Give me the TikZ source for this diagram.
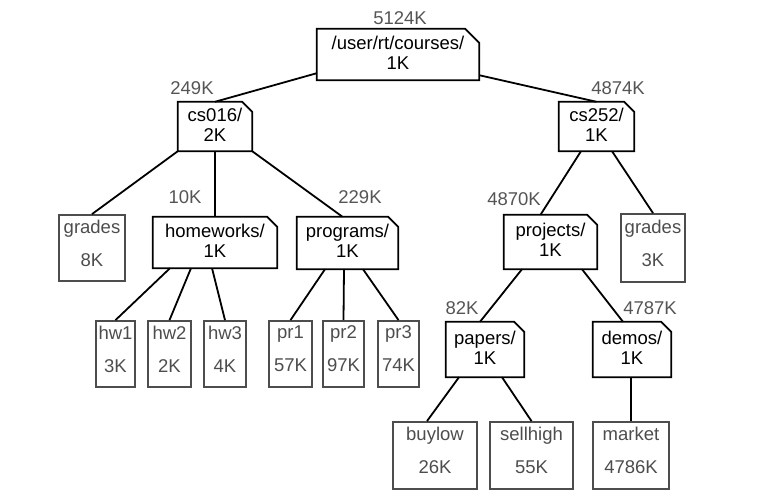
\documentclass[tikz,border=0pt]{standalone}
\usepackage{fontspec}
\setmainfont{Liberation Sans}
\definecolor{filegray}{HTML}{4D4D4D}
\definecolor{sizegray}{HTML}{555555}
\newcommand\fdp{\rule[-10pt]{0pt}{10pt}}
\newcommand\ddp{\rule[-4pt]{0pt}{4pt}}
\newcommand\folderoutline[2][10pt]{\draw[foldline] (#2.south west) -- (#2.north west) -- ([xshift=-#1]#2.north east) -- ([yshift=-#1]#2.north east) -- (#2.south east) -- cycle;}
\tikzset{
  basetext/.style={font=\fontsize{18.5}{20}\selectfont, inner sep=0pt, align=center},
  filebox/.style={basetext, draw=filegray, text=filegray, line width=1.8pt},
  folderbox/.style={basetext, text=black},
  sizelabel/.style={font=\fontsize{18.5}{20}\selectfont, text=sizegray, inner sep=0pt, anchor=base},
  edge/.style={line width=1.8pt, black},
  foldline/.style={line width=1.8pt, black, line join=miter},
}
\begin{document}
\begin{tikzpicture}[x=1pt,y=-1pt]
\path[use as bounding box, fill=white] (0,0) rectangle (764,503);

% folders
\node[folderbox, minimum width=162pt, minimum height=51pt] (root) at (398,54.5) {/user/rt/courses/\\1K\ddp};
\node[folderbox, minimum width=74pt, minimum height=49pt] (cs016) at (215,126.5) {cs016/\\2K\ddp};
\node[folderbox, minimum width=75pt, minimum height=49pt] (cs252) at (596.5,126.5) {cs252/\\1K\ddp};
\node[folderbox, minimum width=124pt, minimum height=51pt] (homeworks) at (215,242.5) {homeworks/\\1K\ddp};
\node[folderbox, minimum width=101pt, minimum height=52pt] (programs) at (347.5,243) {programs/\\1K\ddp};
\node[folderbox, minimum width=93pt, minimum height=54pt] (projects) at (550.5,242) {projects/\\1K\ddp};
\node[folderbox, minimum width=78pt, minimum height=55pt] (papers) at (485,349.5) {papers/\\1K\ddp};
\node[folderbox, minimum width=78pt, minimum height=55pt] (demos) at (632,349.5) {demos/\\1K\ddp};
\folderoutline[14pt]{root}
\folderoutline{cs016}
\folderoutline{cs252}
\folderoutline{homeworks}
\folderoutline{programs}
\folderoutline{projects}
\folderoutline{papers}
\folderoutline{demos}

% files
\node[filebox, minimum width=66pt, minimum height=66pt] (gradesL) at (92,248) {grades\\[13pt]8K\fdp};
\node[filebox, minimum width=64pt, minimum height=68pt] (gradesR) at (653,248) {grades\\[13pt]3K\fdp};
\node[filebox, minimum width=39pt, minimum height=66pt] (hw1) at (115.5,354) {hw1\\[13pt]3K\fdp};
\node[filebox, minimum width=43pt, minimum height=66pt] (hw2) at (169.5,354) {hw2\\[13pt]2K\fdp};
\node[filebox, minimum width=42pt, minimum height=66pt] (hw3) at (225,354) {hw3\\[13pt]4K\fdp};
\node[filebox, minimum width=43pt, minimum height=66pt] (pr1) at (290.5,354) {pr1\\[13pt]57K\fdp};
\node[filebox, minimum width=41pt, minimum height=66pt] (pr2) at (343.5,354) {pr2\\[13pt]97K\fdp};
\node[filebox, minimum width=41pt, minimum height=66pt] (pr3) at (398.5,354) {pr3\\[13pt]74K\fdp};
\node[filebox, minimum width=84pt, minimum height=67pt] (buylow) at (435,455.5) {buylow\\[13pt]26K\fdp};
\node[filebox, minimum width=83pt, minimum height=67pt] (sellhigh) at (531.5,455.5) {sellhigh\\[13pt]55K\fdp};
\node[filebox, minimum width=76pt, minimum height=67pt] (market) at (631,455.5) {market\\[13pt]4786K\fdp};

% size labels
\node[sizelabel] (s-root) at (400,25) {5124K};
\node[sizelabel] (s-cs016) at (192,95) {249K};
\node[sizelabel] (s-cs252) at (618,95) {4874K};
\node[sizelabel] (s-hw) at (185,204) {10K};
\node[sizelabel] (s-pr) at (360,204) {229K};
\node[sizelabel] (s-proj) at (514,205) {4870K};
\node[sizelabel] (s-pap) at (462,314) {82K};
\node[sizelabel] (s-dem) at (650,314) {4787K};

% connectors
\draw[edge] ([yshift=7pt]root.south west) -- (cs016.north);
\draw[edge] ([yshift=5pt]root.south east) -- (cs252.north);
\draw[edge] (cs016.south west) -- (gradesL.north);
\draw[edge] (cs016.south) -- (homeworks.north);
\draw[edge] (cs016.south east) -- ([xshift=-5pt]programs.north);
\draw[edge] ([xshift=-45pt]homeworks.south) -- (hw1.north);
\draw[edge] ([xshift=-24pt]homeworks.south) -- (hw2.north);
\draw[edge] ([xshift=-3pt]homeworks.south) -- (hw3.north);
\draw[edge] ([xshift=-22.5pt]programs.south) -- (pr1.north);
\draw[edge] ([xshift=-3.5pt]programs.south) -- (pr2.north);
\draw[edge] ([xshift=15.5pt]programs.south) -- (pr3.north);
\draw[edge] ([xshift=-15.5pt]cs252.south) -- ([xshift=-10pt]projects.north);
\draw[edge] ([xshift=15.5pt]cs252.south) -- (gradesR.north);
\draw[edge] ([xshift=-28.5pt]projects.south) -- ([xshift=-5pt]papers.north);
\draw[edge] ([xshift=31.5pt]projects.south) -- ([xshift=-9pt]demos.north);
\draw[edge] ([xshift=-26pt]papers.south) -- ([xshift=-8pt]buylow.north);
\draw[edge] ([xshift=17pt]papers.south) -- (sellhigh.north);
\draw[edge] ([xshift=-1pt]demos.south) -- (market.north);
\end{tikzpicture}
\end{document}
